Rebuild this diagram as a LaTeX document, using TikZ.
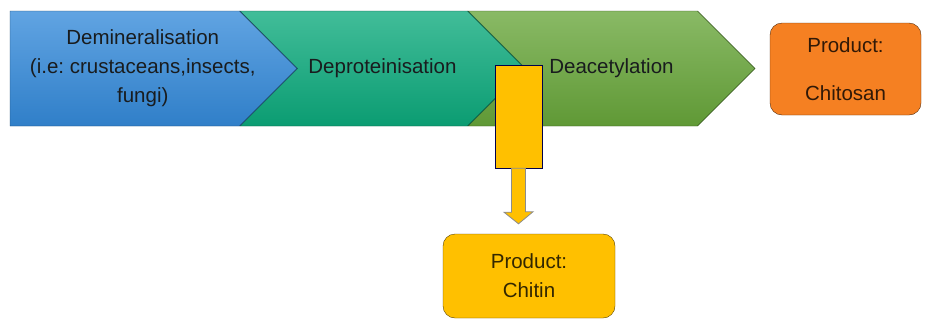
\documentclass[tikz,border=0pt]{standalone}
\usepackage{fontspec}
\setmainfont{Liberation Sans}
\usepackage{xcolor}
\usepackage{tikz}
\usetikzlibrary{shapes.symbols,calc}
\frenchspacing

\definecolor{demincol}{RGB}{52,138,218}
\definecolor{deprotcol}{RGB}{12,170,124}
\definecolor{deacetcol}{RGB}{104,166,58}
\definecolor{chitosancol}{RGB}{245,128,34}
\definecolor{chitincol}{RGB}{255,192,0}
\definecolor{labelcol}{RGB}{25,28,30}

\begin{document}
\begin{tikzpicture}[x=1pt, y=-1pt,
    font=\fontsize{20.5}{29}\selectfont,
    chevron/.style={signal, signal pointer angle=90, minimum height=115pt,
        minimum width=287pt, inner sep=0pt, draw=#1!50!black,
        top color=#1!78!white, bottom color=#1!92!black, text=labelcol},
    productbox/.style={rectangle, rounded corners=12pt, draw=#1!35!black,
        fill=#1, align=center, inner sep=0pt, text=black!80!#1},
    chitinbar/.style={rectangle, draw=blue!30!black, fill=chitincol, inner sep=0pt,
        minimum width=47pt, minimum height=103pt},
    chitinarrow/.style={draw=black!45, fill=chitincol, line width=0.8pt}]
    \useasboundingbox (0,0) rectangle (929,322);

    % Process steps (drawn back to front)
    \node[chevron=deacetcol, signal from=west, signal to=east] (deacet) at (611.5,68.5) {Deacetylation};
    \node[chevron=deprotcol, signal from=west, signal to=east, minimum width=285pt] (deprot) at (382.5,68.5) {Deproteinisation};
    \node[chevron=demincol, signal to=east,
        label={[align=center, xshift=18pt, text=labelcol]center:Demineralisation\\(i.e: crustaceans,insects,\\fungi)}] (demin) at (124.75,68.5) {};

    % Final product
    \node[productbox=chitosancol, minimum width=151pt, minimum height=92pt] (chitosan) at (845.5,69) {Product:\\[19pt]Chitosan};

    % Side product taken out before deacetylation
    \node[chitinbar] (bar) at (518.5,116.5) {};
    \node[productbox=chitincol, minimum width=172pt, minimum height=84pt] (chitin) at (529,276) {Product:\\Chitin};
    \coordinate (tip) at ($(bar.south |- chitin.north)+(0,-10)$);
    \draw[chitinarrow] ([xshift=-7pt]bar.south) -- ++(0,44) -- ++(-7.5,0) -- (tip)
        -- ($(tip)+(14.5,-12)$) -- ++(-7.5,0) -- ([xshift=7pt]bar.south) -- cycle;
\end{tikzpicture}
\end{document}
